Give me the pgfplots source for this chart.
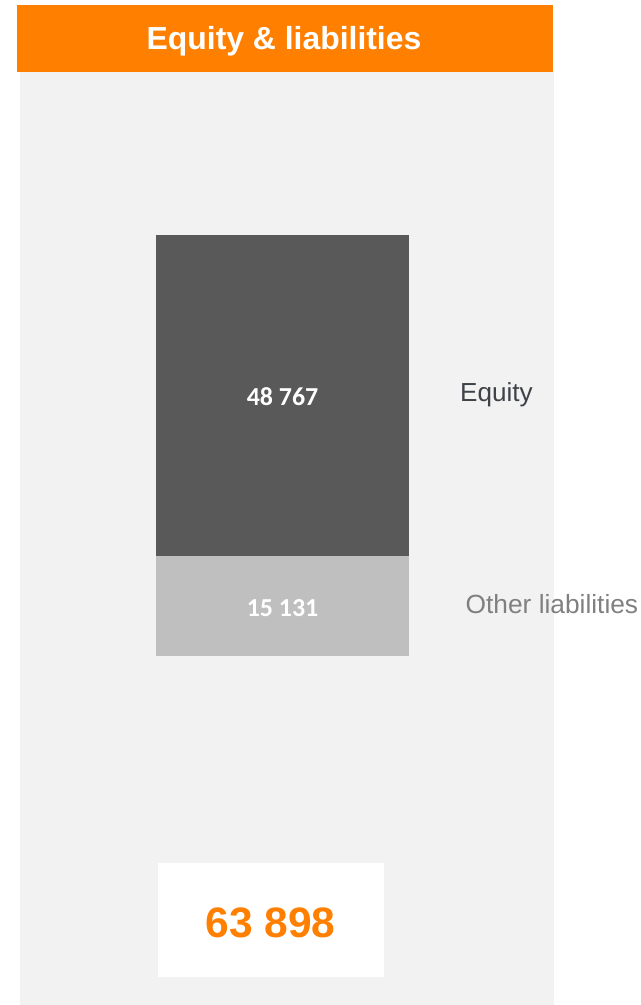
\documentclass[border=0pt]{standalone}
\usepackage{pgfplots}
\pgfplotsset{compat=1.18}
\usepackage{fontspec}
\setmainfont{Liberation Sans}
\newfontfamily\calibri{Carlito}
\definecolor{orangeH}{RGB}{255,128,0}
\definecolor{panel}{RGB}{242,242,242}
\definecolor{darkbar}{RGB}{89,89,89}
\definecolor{lightbar}{RGB}{191,191,191}
\definecolor{eqtext}{RGB}{62,67,72}
\definecolor{oltext}{RGB}{128,128,128}
\begin{document}
\begin{tikzpicture}
\useasboundingbox (0,0) rectangle (641bp,1005bp);
% panel and header
\fill[panel] (20bp,0bp) rectangle (554bp,933bp);
\fill[orangeH] (17bp,933bp) rectangle (553bp,1000bp);
\node[anchor=base, text=white, inner sep=0pt] at (284bp,955bp)
  {\fontsize{32}{36}\selectfont\bfseries Equity \& liabilities};
% total box
\fill[white] (158bp,28bp) rectangle (384bp,142bp);
\node[anchor=base, text=orangeH, inner sep=0pt] at (270.5bp,67.5bp)
  {\fontsize{42.7}{48}\selectfont\bfseries 63 898};
\begin{axis}[
  at={(0bp,0bp)}, anchor=south west,
  scale only axis, width=641bp, height=1005bp,
  xmin=0, xmax=641, ymin=-52970, ymax=99565,
  hide axis, clip=false,
  ybar stacked, bar width=253,
]
\addplot[fill=lightbar, draw=none] coordinates {(282.5,15131)};
\addplot[fill=darkbar, draw=none] coordinates {(282.5,48767)};
\coordinate (lo) at (axis cs:282.5,6071);
\coordinate (hi) at (axis cs:282.5,38096);
\coordinate (eq) at (axis cs:460,38620);
\coordinate (ol) at (axis cs:465.5,6526);
\end{axis}
\node[anchor=base, text=white, inner sep=0pt] at (lo)
  {\calibri\fontsize{26}{30}\selectfont\bfseries 15 131};
\node[anchor=base, text=white, inner sep=0pt] at (hi)
  {\calibri\fontsize{26}{30}\selectfont\bfseries 48 767};
\node[anchor=base west, text=eqtext, inner sep=0pt] at (eq)
  {\fontsize{26.2}{30}\selectfont Equity};
\node[anchor=base west, text=oltext, inner sep=0pt] at (ol)
  {\fontsize{26.4}{30}\selectfont Other liabilities};
\end{tikzpicture}
\end{document}
